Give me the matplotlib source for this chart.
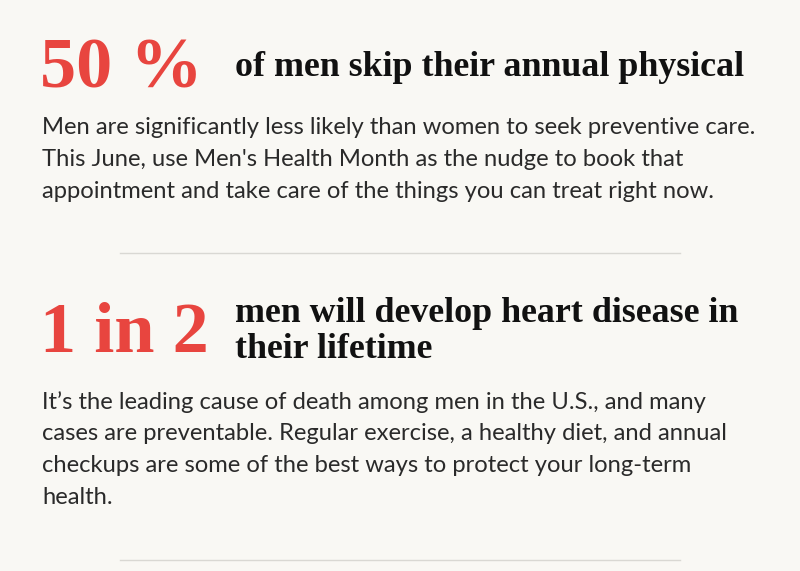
import matplotlib
matplotlib.use("Agg")
import matplotlib.pyplot as plt
from matplotlib.lines import Line2D

W, H = 800, 571
bg = "#f9f8f4"
red = "#e8453f"
dark = "#111111"
body_c = "#2a2a2a"

stats = ["50 %", "1 in 2"]
headlines = [["of men skip their annual physical"],
             ["men will develop heart disease in", "their lifetime"]]
bodies = [["Men are significantly less likely than women to seek preventive care.",
           "This June, use Men's Health Month as the nudge to book that",
           "appointment and take care of the things you can treat right now."],
          ["It\u2019s the leading cause of death among men in the U.S., and many",
           "cases are preventable. Regular exercise, a healthy diet, and annual",
           "checkups are some of the best ways to protect your long-term",
           "health."]]

fig = plt.figure(figsize=(W/100, H/100), dpi=100, facecolor=bg)

def Y(py):
    return 1 - py/H

def X(px):
    return px/W

stat_y = [70, 334]
head_y = [[68], [313, 350]]
body_y = [[128, 160, 192], [402, 434, 466, 498]]
div_y = [253, 560]

for i in range(2):
    fig.text(X(40), Y(stat_y[i]), stats[i], color=red, fontsize=52,
             fontweight="bold", family="Liberation Serif", va="center", ha="left")
    for ln, yy in zip(headlines[i], head_y[i]):
        fig.text(X(235), Y(yy), ln, color=dark, fontsize=25.8, fontweight="bold",
                 family="Liberation Serif", va="center", ha="left")
    for ln, yy in zip(bodies[i], body_y[i]):
        fig.text(X(42), Y(yy), ln, color=body_c, fontsize=17.1,
                 family="Lato", va="center", ha="left")
    fig.add_artist(Line2D([X(120), X(680)], [Y(div_y[i])]*2, color="#d9d8d3", lw=1))

fig.savefig("out.png", dpi=100, facecolor=bg)
